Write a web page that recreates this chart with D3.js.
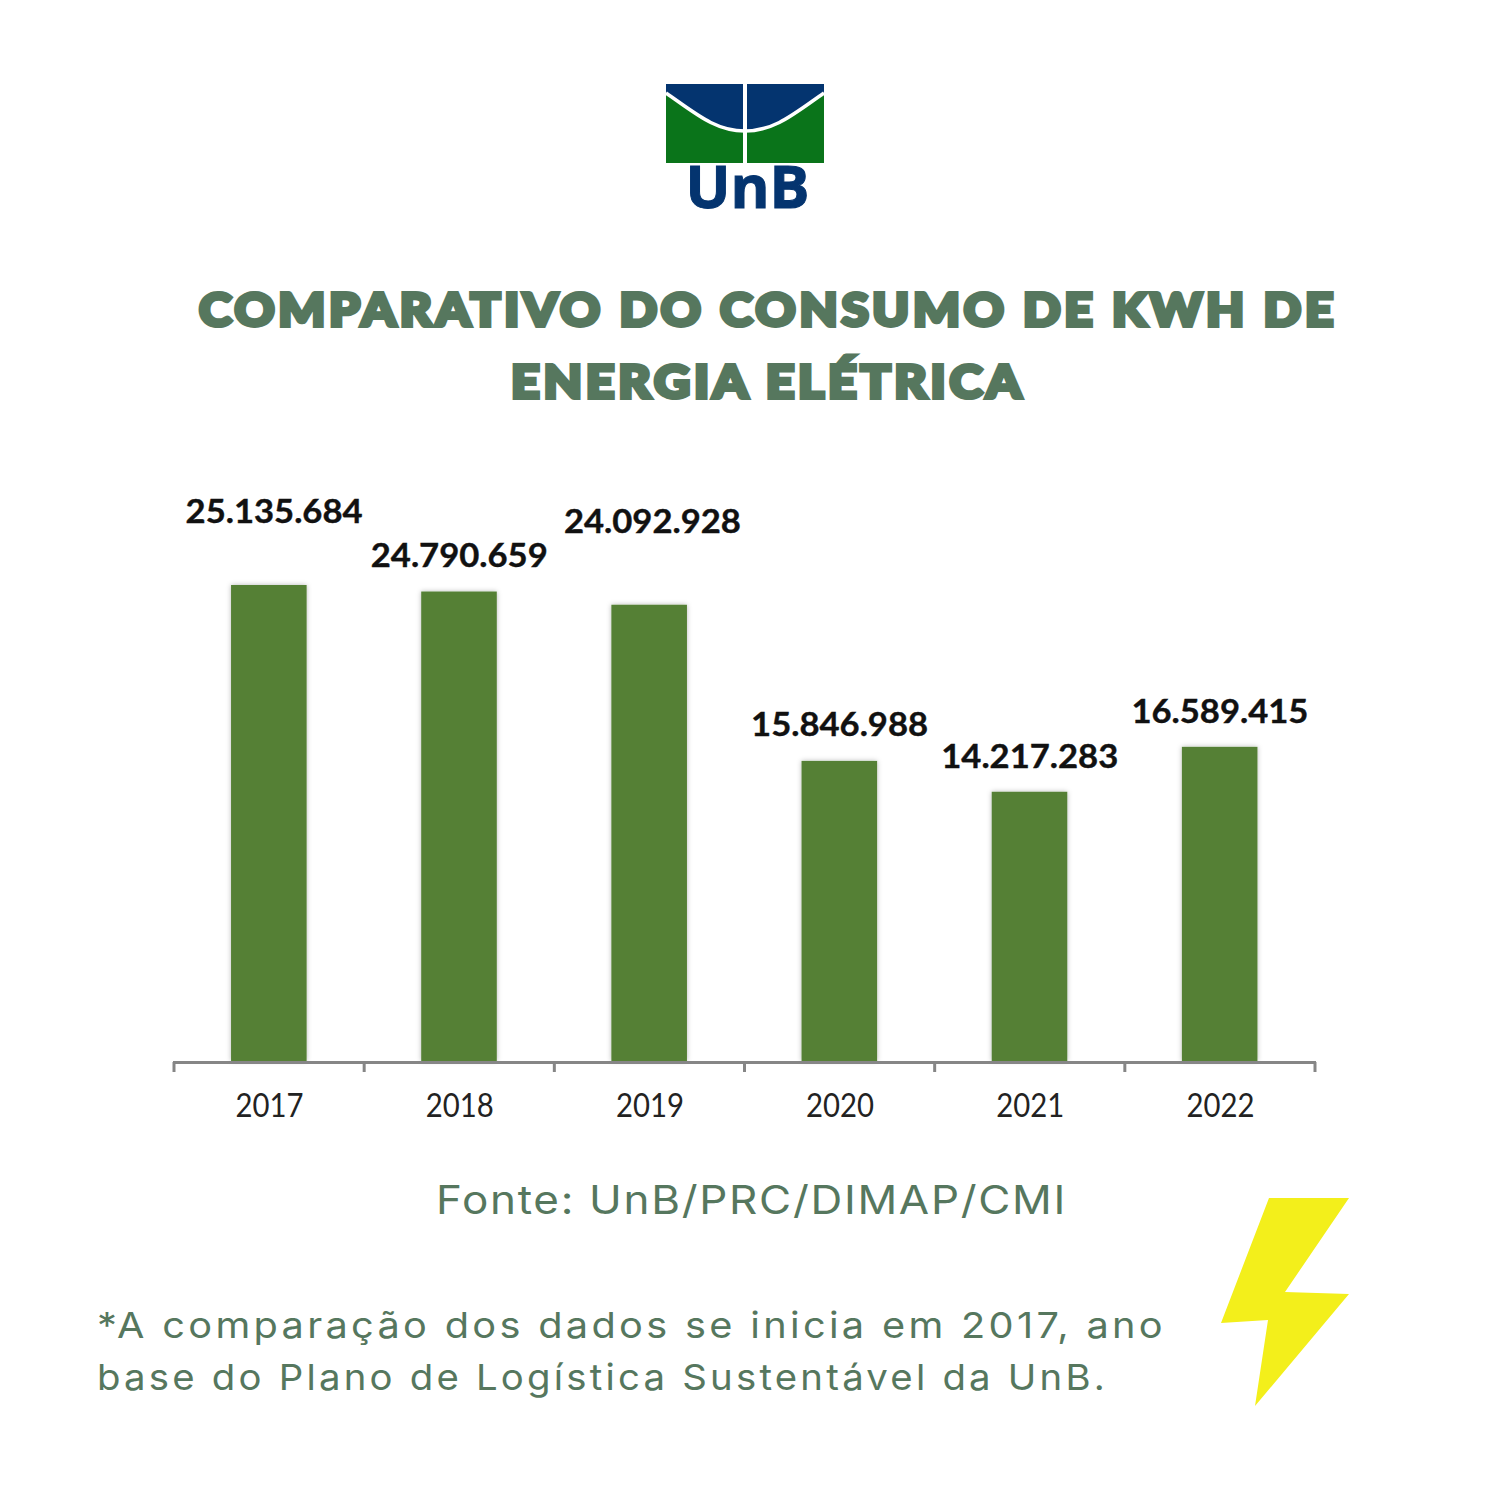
<!DOCTYPE html>
<html>
<head>
<meta charset="utf-8">
<script src="https://cdn.jsdelivr.net/npm/d3@7"></script>
<style>
  html, body { margin: 0; padding: 0; background: #ffffff; }
  svg { display: block; }
</style>
</head>
<body>
<script>
var anos = ["2017", "2018", "2019", "2020", "2021", "2022"];
var consumo = [25135684, 24790659, 24092928, 15846988, 14217283, 16589415];
var tituloLinhas = ["COMPARATIVO DO CONSUMO DE KWH DE", "ENERGIA ELÉTRICA"];
var fonte = "Fonte: UnB/PRC/DIMAP/CMI";
var notaLinhas = ["*A comparação dos dados se inicia em 2017, ano", "base do Plano de Logística Sustentável da UnB."];

var verde = "#56775e";
var width = 1500;
var height = 1500;

var svg = d3.select("body").append("svg")
  .attr("width", width)
  .attr("height", height)
  .attr("viewBox", "0 0 1500 1500");

var defs = svg.append("defs");
var sombra = defs.append("filter").attr("id", "sombra")
  .attr("x", "-10%").attr("width", "120%");
sombra.append("feDropShadow")
  .attr("dx", 0).attr("dy", 0)
  .attr("stdDeviation", 2.5)
  .attr("flood-color", "#000")
  .attr("flood-opacity", 0.28);

// logo
var logo = svg.append("g");
logo.append("rect").attr("x", 666).attr("y", 84).attr("width", 158).attr("height", 79).attr("fill", "#0a741a");
logo.append("path")
  .attr("d", "M666 84 H824 V93 C795 113 775 131 745 131 C715 131 695 113 666 93 Z")
  .attr("fill", "#04346f");
logo.append("path")
  .attr("d", "M666 93 C695 113 715 131 745 131 C775 131 795 113 824 93")
  .attr("fill", "none").attr("stroke", "#ffffff").attr("stroke-width", 3.5);
logo.append("rect").attr("x", 743).attr("y", 84).attr("width", 4).attr("height", 79).attr("fill", "#ffffff");
logo.append("text")
  .text("UnB")
  .attr("x", 747.5).attr("y", 208)
  .attr("text-anchor", "middle")
  .attr("textLength", 124)
  .attr("lengthAdjust", "spacingAndGlyphs")
  .attr("font-family", "'Open Sans'")
  .attr("font-weight", 700)
  .attr("font-size", 59)
  .attr("fill", "#04346f")
  .attr("stroke", "#04346f")
  .attr("stroke-width", 1);

// titulo
var tituloX = [[199, 1337], [511, 1025]];
svg.selectAll(".titulo")
  .data(tituloLinhas)
  .enter()
  .append("text")
  .attr("class", "titulo")
  .text(function(d){ return d; })
  .attr("x", function(d,i){ return tituloX[i][0]; })
  .attr("y", function(d,i){ return 326 + i*72; })
  .attr("textLength", function(d,i){ return tituloX[i][1] - tituloX[i][0]; })
  .attr("lengthAdjust", "spacingAndGlyphs")
  .attr("letter-spacing", 3.5)
  .attr("font-family", "Lato")
  .attr("font-weight", 900)
  .attr("font-size", 46)
  .attr("fill", verde)
  .attr("stroke", verde)
  .attr("stroke-width", 4)
  .attr("stroke-linejoin", "miter");

// grafico
var base = 1061;
var x = d3.scaleBand().domain(anos).range([174, 1315]).paddingInner(0.6).paddingOuter(0.3);
var y = d3.scaleLinear().domain([0, 25135684]).range([base, 585]);
var fmt = d3.formatLocale({ decimal: ",", thousands: ".", grouping: [3], currency: ["", ""] }).format(",d");

svg.selectAll(".barra")
  .data(consumo)
  .enter()
  .append("rect")
  .attr("class", "barra")
  .attr("x", function(d,i){ return x(anos[i]); })
  .attr("y", function(d){ return y(d); })
  .attr("width", x.bandwidth() - 0.5)
  .attr("height", function(d){ return base - y(d); })
  .attr("fill", "#558035")
  .attr("filter", "url(#sombra)");

// rotulos: alguns estao deslocados no original
var rotuloDx = [5, 0, 3, 0, 0, 0];
var rotuloDy = [62, 25, 72, 25, 24, 24];
svg.selectAll(".rotulo")
  .data(consumo)
  .enter()
  .append("text")
  .attr("class", "rotulo")
  .text(function(d){ return fmt(d); })
  .attr("x", function(d,i){ return x(anos[i]) + x.bandwidth()/2 + rotuloDx[i]; })
  .attr("y", function(d,i){ return y(d) - rotuloDy[i]; })
  .attr("text-anchor", "middle")
  .attr("textLength", 177)
  .attr("lengthAdjust", "spacingAndGlyphs")
  .attr("font-family", "Lato")
  .attr("font-weight", 700)
  .attr("font-size", 33)
  .attr("fill", "#111111")
  .attr("stroke", "#111111")
  .attr("stroke-width", 0.4);

// eixo
var eixo = d3.axisBottom(d3.scalePoint().domain(anos).range([x(anos[0]) + x.bandwidth()/2, x(anos[5]) + x.bandwidth()/2]))
  .tickSize(0)
  .tickPadding(32);
var eixoG = svg.append("g")
  .attr("transform", "translate(0," + (base + 1) + ")")
  .call(eixo);
eixoG.select(".domain").remove();
eixoG.selectAll("text")
  .attr("textLength", 68)
  .attr("lengthAdjust", "spacingAndGlyphs")
  .attr("font-family", "Lato")
  .attr("font-size", 32)
  .attr("fill", "#222222");

svg.append("line")
  .attr("x1", 173).attr("x2", 1316)
  .attr("y1", base + 1.5).attr("y2", base + 1.5)
  .attr("stroke", "#868686").attr("stroke-width", 3);
var marcas = d3.range(7);
svg.selectAll(".marca")
  .data(marcas)
  .enter()
  .append("line")
  .attr("class", "marca")
  .attr("x1", function(d){ return 174 + d*x.step(); })
  .attr("x2", function(d){ return 174 + d*x.step(); })
  .attr("y1", base + 1).attr("y2", base + 11)
  .attr("stroke", "#868686").attr("stroke-width", 3);

// fonte e nota
svg.append("text")
  .text(fonte)
  .attr("x", 436).attr("y", 1214)
  .attr("textLength", 631)
  .attr("lengthAdjust", "spacingAndGlyphs")
  .attr("letter-spacing", 1.5)
  .attr("font-family", "Inter")
  .attr("font-weight", 400)
  .attr("font-size", 39)
  .attr("fill", verde);

var notaLarg = [1069, 1011];
svg.selectAll(".nota")
  .data(notaLinhas)
  .enter()
  .append("text")
  .attr("class", "nota")
  .text(function(d){ return d; })
  .attr("x", 97)
  .attr("y", function(d,i){ return 1338 + i*52; })
  .attr("textLength", function(d,i){ return notaLarg[i]; })
  .attr("lengthAdjust", "spacingAndGlyphs")
  .attr("letter-spacing", 3)
  .attr("font-family", "Inter")
  .attr("font-weight", 400)
  .attr("font-size", 36)
  .attr("fill", verde);

// raio
svg.append("path")
  .attr("d", "M1269 1198 H1349 L1285 1292 L1349 1294 L1255 1406 L1268 1320 L1221 1323 Z")
  .attr("fill", "#f3ef1b");
</script>
</body>
</html>
